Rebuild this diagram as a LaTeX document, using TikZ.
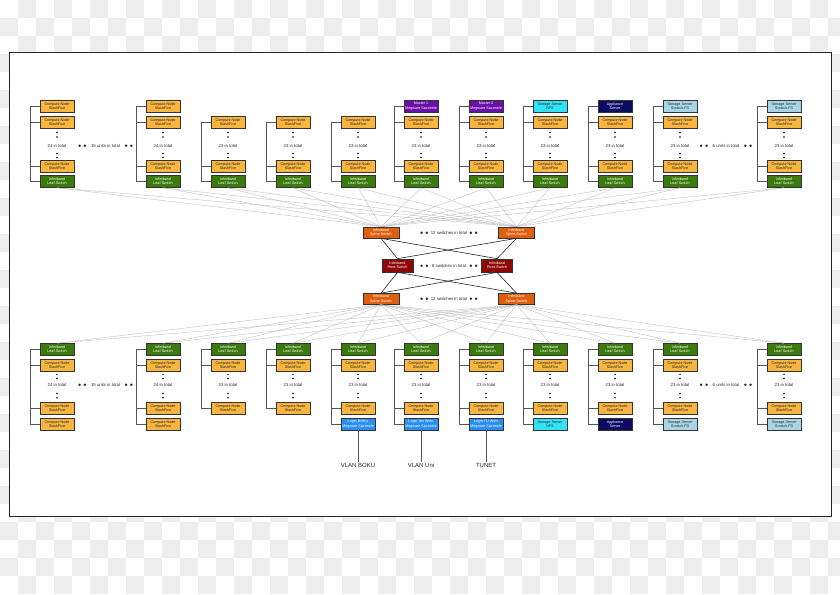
\documentclass[tikz,border=0pt]{standalone}
\usepackage{fontspec}
\setmainfont{Liberation Sans}
\usetikzlibrary{calc}
\definecolor{cmp}{HTML}{F8B540}
\definecolor{leafc}{HTML}{3B7A0C}
\definecolor{spinec}{HTML}{DE5F10}
\definecolor{rootc}{HTML}{8E0606}
\definecolor{masterc}{HTML}{6A10A8}
\definecolor{nfsc}{HTML}{33E2F4}
\definecolor{applc}{HTML}{0B0B60}
\definecolor{scratchc}{HTML}{A8D6E6}
\definecolor{loginc}{HTML}{2A8FF0}
\definecolor{boxborder}{HTML}{333333}
\definecolor{bracketc}{HTML}{555555}
\definecolor{fanc}{HTML}{BBBBBB}
\definecolor{checkc}{HTML}{EDEDED}
\newcommand{\TopCol}[4]{%
  \node[cnode] (#1-b) at (#2,122.5) {Compute Node\\SlashFive};
  \node[note] (#1-c) at (#2,146) {#3 in total};
  \node[cnode] (#1-d) at (#2,166) {Compute Node\\SlashFive};
  \node[leaf] (#1-e) at (#2,181.5) {Infiniband\\Leaf-Switch};
  \foreach \yy in {132.5,137,153.5,157.5} \fill (#2,\yy) circle (0.8);
  \draw[bracket] (#4.west) -| ([xshift=-9pt]#1-e.west) -- (#1-e.west);
  \draw[bracket] (#1-b.west) -- ++(-9,0);
  \draw[bracket] (#1-d.west) -- ++(-9,0);
}
\newcommand{\BotCol}[4]{%
  \node[leaf] (#1-a) at (#2,349.5) {Infiniband\\Leaf-Switch};
  \node[cnode] (#1-b) at (#2,365.5) {Compute Node\\SlashFive};
  \node[note] (#1-c) at (#2,385) {#3 in total};
  \node[cnode] (#1-d) at (#2,408.5) {Compute Node\\SlashFive};
  \foreach \yy in {374.3,378.5,393.5,397.7} \fill (#2,\yy) circle (0.8);
  \draw[bracket] (#1-a.west) -| ([xshift=-9pt]#4.west) -- (#4.west);
  \draw[bracket] (#1-b.west) -- ++(-9,0);
  \draw[bracket] (#1-d.west) -- ++(-9,0);
}
\newcommand{\bdots}{$\bullet$\hspace{1.6pt}$\bullet$}
\begin{document}
\begin{tikzpicture}[x=1pt,y=-1pt,
  nbox/.style={draw=boxborder,line width=0.7pt,minimum width=34pt,minimum height=12pt,
    inner sep=0pt,align=center,font=\fontsize{3.7}{4.3}\selectfont},
  cnode/.style={nbox,fill=cmp,text=black!85},
  leaf/.style={nbox,fill=leafc,text=white},
  master/.style={nbox,fill=masterc,text=white},
  nfs/.style={nbox,fill=nfsc,text=black!85},
  appl/.style={nbox,fill=applc,text=white},
  scratch/.style={nbox,fill=scratchc,text=black!85},
  login/.style={nbox,fill=loginc,text=white},
  spine/.style={nbox,fill=spinec,text=white,minimum width=36pt,minimum height=11pt},
  root/.style={nbox,fill=rootc,text=white,minimum width=31pt,minimum height=13pt},
  note/.style={font=\fontsize{4.3}{5}\selectfont,inner sep=0.5pt,text=black!85},
  vlan/.style={font=\fontsize{6}{7}\selectfont,inner sep=1pt,text=black!85},
  bracket/.style={draw=bracketc,line width=0.9pt},
  fan/.style={draw=fanc,line width=0.35pt},
  link/.style={draw=black!85,line width=0.6pt}
]
\useasboundingbox (0,0) rectangle (840,594);
% checkerboard background
\begin{scope}
\clip (0,0) rectangle (840,594);
\fill[white] (0,0) rectangle (840,594);
\foreach \j in {0,...,32}{
  \pgfmathtruncatemacro\s{mod(\j+1,2)}
  \pgfmathtruncatemacro\ss{\s+2}
  \foreach \i in {\s,\ss,...,46}
    \fill[checkc] (\i*18,\j*18) rectangle ++(18,18);
}
\end{scope}
% frame
\draw[line width=0.6pt,fill=white,draw=black!85] (9,52) rectangle (831,516);

% ---------- top row ----------
\node[cnode] (t1-a) at (57,106) {Compute Node\\SlashFive};
\TopCol{t1}{57}{24}{t1-a}
\node[cnode] (t2-a) at (163,106) {Compute Node\\SlashFive};
\TopCol{t2}{163}{24}{t2-a}
\TopCol{t3}{228}{23}{t3-b}
\TopCol{t4}{293}{23}{t4-b}
\TopCol{t5}{358}{23}{t5-b}
\node[master] (t6-a) at (421,106) {Master 1\\Megware Saxonide};
\TopCol{t6}{421}{23}{t6-a}
\node[master] (t7-a) at (486,106) {Master 0\\Megware Saxonide};
\TopCol{t7}{486}{23}{t7-a}
\node[nfs] (t8-a) at (550,106) {Storage Server\\NFS};
\TopCol{t8}{550}{23}{t8-a}
\node[appl] (t9-a) at (615,106) {Appliance\\Server};
\TopCol{t9}{615}{23}{t9-a}
\node[scratch] (t10-a) at (680,106) {Storage Server\\Scratch FS};
\TopCol{t10}{680}{23}{t10-a}
\node[scratch] (t11-a) at (784,106) {Storage Server\\Scratch FS};
\TopCol{t11}{784}{23}{t11-a}

\node[note] (u1) at (105.5,146) {\bdots\quad 15 units in total\quad \bdots};
\node[note] (u2) at (726,146) {\bdots\quad 6 units in total\quad \bdots};

% ---------- core ----------
\node[spine] (sp1) at (381,232.5) {Infiniband\\Spine-Switch};
\node[spine] (sp2) at (516.5,232.5) {Infiniband\\Spine-Switch};
\node[root] (rt1) at (397.5,265.5) {Infiniband\\Root-Switch};
\node[root] (rt2) at (497,265.5) {Infiniband\\Root-Switch};
\node[spine] (sb1) at (381,299) {Infiniband\\Spine-Switch};
\node[spine] (sb2) at (516.5,299) {Infiniband\\Spine-Switch};
\node[note] (n1) at (449,233) {\bdots\ \,12 switches in total\ \,\bdots};
\node[note] (n2) at (449,265.5) {\bdots\ \ \,8 switches in total\ \ \,\bdots};
\node[note] (n3) at (449,298.5) {\bdots\ \,12 switches in total\ \,\bdots};

% ---------- bottom row ----------
\node[cnode] (b1-e) at (57,424) {Compute Node\\SlashFive};
\BotCol{b1}{57}{24}{b1-e}
\node[cnode] (b2-e) at (163,424) {Compute Node\\SlashFive};
\BotCol{b2}{163}{24}{b2-e}
\BotCol{b3}{228}{23}{b3-d}
\BotCol{b4}{293}{23}{b4-d}
\node[login] (b5-e) at (358,424) {Login BOKU\\Megware Saxonide};
\BotCol{b5}{358}{23}{b5-e}
\node[login] (b6-e) at (421,424) {Login Uni Wien\\Megware Saxonide};
\BotCol{b6}{421}{23}{b6-e}
\node[login] (b7-e) at (486,424) {Login TU Wien\\Megware Saxonide};
\BotCol{b7}{486}{23}{b7-e}
\node[nfs] (b8-e) at (550,424) {Storage Server\\NFS};
\BotCol{b8}{550}{23}{b8-e}
\node[appl] (b9-e) at (615,424) {Appliance\\Server};
\BotCol{b9}{615}{23}{b9-e}
\node[scratch] (b10-e) at (680,424) {Storage Server\\Scratch FS};
\BotCol{b10}{680}{23}{b10-e}
\node[scratch] (b11-e) at (784,424) {Storage Server\\Scratch FS};
\BotCol{b11}{784}{23}{b11-e}

\node[note] (u3) at (105.5,385) {\bdots\quad 15 units in total\quad \bdots};
\node[note] (u4) at (726,385) {\bdots\quad 6 units in total\quad \bdots};

% ---------- fan lines ----------
\foreach \k in {1,...,11}{
  \draw[fan] (t\k-e.south) -- (sp1.north);
  \draw[fan] (t\k-e.south) -- (sp2.north);
  \draw[fan] (b\k-a.north) -- (sb1.south);
  \draw[fan] (b\k-a.north) -- (sb2.south);
}

% ---------- core links ----------
\draw[link] (sp1.south) -- (rt1.north);
\draw[link] (sp1.south) -- (rt2.north);
\draw[link] (sp2.south) -- (rt1.north);
\draw[link] (sp2.south) -- (rt2.north);
\draw[link] (rt1.south) -- (sb1.north);
\draw[link] (rt1.south) -- (sb2.north);
\draw[link] (rt2.south) -- (sb1.north);
\draw[link] (rt2.south) -- (sb2.north);

% ---------- VLANs ----------
\node[vlan] (v1) at (358,465) {VLAN BOKU};
\node[vlan] (v2) at (421,465) {VLAN Uni};
\node[vlan] (v3) at (486,465) {TUNET};
\draw[bracket] (b5-e.south) -- (v1.north);
\draw[bracket] (b6-e.south) -- (v2.north);
\draw[bracket] (b7-e.south) -- (v3.north);
\end{tikzpicture}
\end{document}
